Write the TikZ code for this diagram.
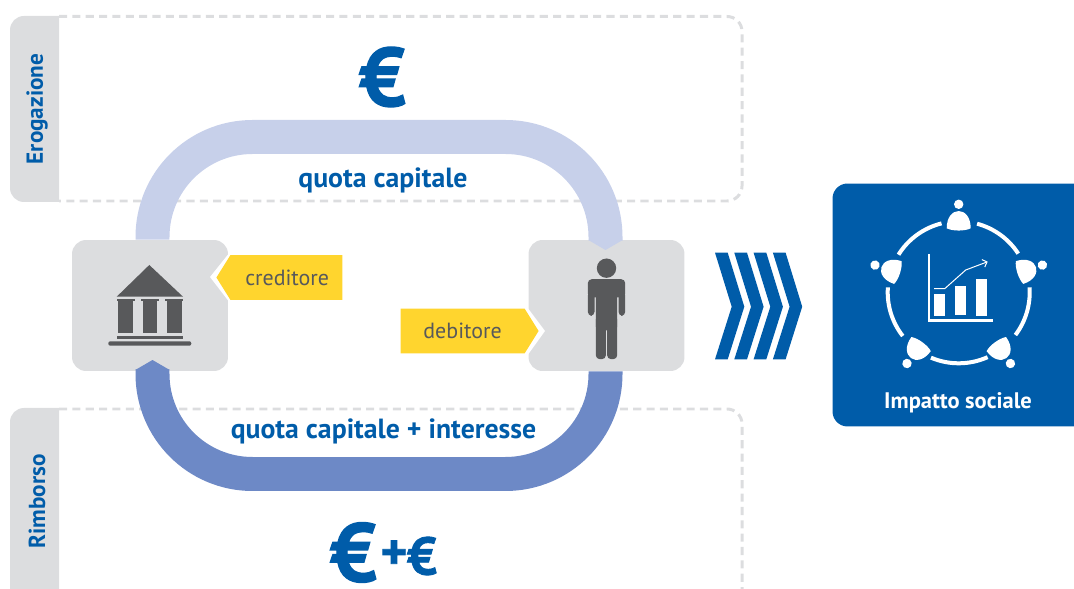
\documentclass[tikz,border=0pt]{standalone}
\usepackage{fontspec}
\setmainfont{PT Sans}
\newfontfamily\eurofont[FakeBold=1.6]{PT Sans Bold}
\usetikzlibrary{arrows.meta, shapes.symbols}
\definecolor{euroblue}{HTML}{005CA9}
\definecolor{boxgrey}{HTML}{DCDDDF}
\definecolor{icongrey}{HTML}{58595B}
\definecolor{tagyellow}{HTML}{FFD52E}
\definecolor{bandlight}{HTML}{C7D0EA}
\definecolor{banddark}{HTML}{6D89C6}
\tikzset{
    panelline/.style={draw=boxgrey, line width=1.7pt, dash pattern=on 4.6pt off 3pt, rounded corners=0.3cm},
    paneltab/.style={fill=boxgrey},
    tabtext/.style={rotate=90, text=euroblue, font=\bfseries\fontsize{13.2}{14}\selectfont},
    actorbox/.style={fill=boxgrey, rounded corners=0.28cm, minimum width=3.12cm, minimum height=2.62cm, inner sep=0pt},
    bandup/.style={draw=bandlight, line width=0.68cm, rounded corners=2cm, -{Triangle[width=0.68cm, length=0.2cm]}},
    banddown/.style={draw=banddark, line width=0.68cm, rounded corners=2cm, -{Triangle[width=0.68cm, length=0.2cm]}},
    bandtext/.style={text=euroblue, font=\bfseries\fontsize{15.8}{16}\selectfont},
    tagbox/.style={signal, fill=tagyellow, text=icongrey, signal pointer angle=116, minimum height=0.9cm, inner sep=0pt, font=\fontsize{12.5}{13}\selectfont},
    eurotext/.style={text=euroblue, inner sep=0pt, font=\eurofont\fontsize{#1}{#1}\selectfont},
    chevron/.style={fill=euroblue},
    ringarc/.style={draw=white, line width=0.08cm},
}
\begin{document}
\begin{tikzpicture}[x=0.02cm, y=0.02cm]
    \clip (0,0) rectangle (1074,588);

    \path[paneltab] (59,386) [rounded corners=0.28cm] -- (10,386) -- (10,572) [sharp corners] -- (59,572) -- cycle;
    \draw[panelline] (59,571.5) -| (742,387) -- (59,387);
    \node[tabtext] (erogazione) at (37,479) {Erogazione};

    \path[paneltab] (59,-30) -- (10,-30) [rounded corners=0.28cm] -- (10,180) [sharp corners] -- (59,180) -- cycle;
    \draw[panelline] (59,179) -| (742,-30);
    \node[tabtext] (rimborso) at (37,86.5) {Rimborso};

    \node[actorbox] (bank) at (150,282.5) {};
    \node[actorbox] (person) at (606.5,282.5) {};

    \draw[bandup] ([xshift=0.05cm]bank.north) -- (152.5,451) -- (605.5,451) -- (605.5,338);
    \draw[banddown] ([xshift=-0.02cm]person.south) -- (605.5,114) -- (152.5,114) -- (152.5,228);

    \node[bandtext] (capitale) at (383,407.5) {quota capitale};
    \node[bandtext] (interesse) at (383.5,156.5) {quota capitale + interesse};

    \fill[white] (230,336) -- (210,311) -- (230,285) -- cycle;
    \fill[white] (527,281) -- (545,257) -- (527,232) -- cycle;
    \node[tagbox, signal to=west, minimum width=2.52cm, anchor=west] (creditore) at (216,310.5) {\hspace{0.03cm}creditore};
    \node[tagbox, signal to=east, minimum width=2.76cm, anchor=east] (debitore) at (539,257) {debitore};

    \begin{scope}[shift={(bank.center)}, icongrey]
        \fill (-0.7,40.5) -- (33,8.8) -- (-33.3,8.8) -- cycle;
        \foreach \col in {-24.5,0,24.3} {
            \fill (\col-9,4.2) rectangle (\col+9,6.2);
            \fill (\col-7.2,-27.2) rectangle (\col+7.2,4.2);
        }
        \fill (-33.3,-33.2) rectangle (33.3,-30.8);
        \fill[rounded corners=0.04cm] (-41.7,-40.2) rectangle (41.3,-35.8);
    \end{scope}

    \begin{scope}[shift={(person.center)}, icongrey, rounded corners=0.08cm]
        \fill (0,37.3) circle (9.7);
        \fill (-18.7,8) rectangle (18.7,26.3);
        \fill (-18.7,-10.3) rectangle (-12,14);
        \fill (12,-10.3) rectangle (18.7,14);
        \fill (-10.7,-25) rectangle (10.7,15);
        \fill (-10.7,-53.7) rectangle (-0.6,-10);
        \fill (0.6,-53.7) rectangle (10.7,-10);
    \end{scope}

    \node[eurotext=47] (euroup) at (382.5,511) {€};
    \node[eurotext=47] (euroback) at (353.5,35.5) {€};
    \node[eurotext=29] (plusback) at (394,33) {+};
    \node[eurotext=30] (eurosmall) at (422,32) {€};

    \foreach \shft in {0,19.3,38.6,57.9} {
        \begin{scope}[xshift=\shft*0.02cm]
            \fill[chevron] (715,335.3) -- (727.7,335.3) -- (744.3,281.3) -- (727.7,228.7) -- (715,228.7) -- (731.7,281.3) -- cycle;
        \end{scope}
    }

    \node[fill=euroblue, rounded corners=0.3cm, minimum width=5.14cm, minimum height=4.86cm, inner sep=0pt] (impact) at (961,283) {};
    \node[text=white, font=\bfseries\fontsize{12.8}{13}\selectfont] (impactlabel) at (958,185.5) {Impatto sociale};

    \begin{scope}[shift={(958.7,295.7)}]
        \foreach \a/\b in {33/75, 104/148, 176/218, 247/294, -37/4} {
            \draw[ringarc] (\a:71) arc[start angle=\a, end angle=\b, radius=71];
        }
        \foreach \rot in {90,18,-54,-126,162} {
            \begin{scope}[rotate=\rot]
                \fill[white] (88,0) circle (4.7);
                \fill[white] (64,-12) .. controls (87,-12) and (87,12) .. (64,12) .. controls (61,6) and (61,-6) .. (64,-12) -- cycle;
            \end{scope}
        }
        \draw[white, line width=0.05cm] (-29.7,38.3) -- (-29.7,-28.4) -- (34.6,-28.4);
        \fill[white] (-24.7,-23.7) rectangle (-13.4,-1.7);
        \fill[white] (-3.7,-22.7) rectangle (7.3,6.3);
        \fill[white] (17.3,-23.7) rectangle (28.3,13.3);
        \draw[white, line width=0.02cm, -{Straight Barb[length=0.08cm]}] (-24.7,3.6) -- (-14,3.6) -- (7,22.3) -- (29,30.6);
    \end{scope}
\end{tikzpicture}
\end{document}
